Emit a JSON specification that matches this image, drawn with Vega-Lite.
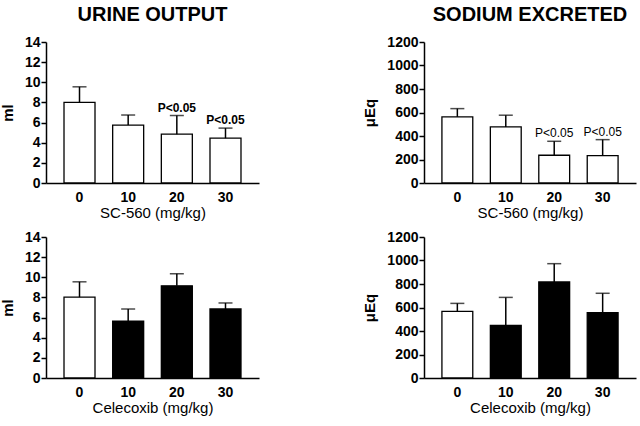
{
  "$schema": "https://vega.github.io/schema/vega-lite/v6.json",
  "background": "white",
  "padding": {"left": 0, "top": 5, "right": 5, "bottom": 5},
  "spacing": 10,
  "config": {
    "font": "Liberation Sans",
    "view": {"stroke": null},
    "concat": {"spacing": 103},
    "axis": {"domainColor": "black", "domainWidth": 1.5, "tickColor": "black", "tickWidth": 1.5, "labelColor": "black", "titleColor": "black", "grid": false, "labelFont": "Liberation Sans", "titleFont": "Liberation Sans", "labelFontWeight": "bold"},
    "axisX": {"ticks": false, "labelAngle": 0, "labelFontSize": 14, "labelPadding": 7, "titleFontSize": 15, "titleFontWeight": "normal", "titlePadding": 1},
    "axisY": {"tickSize": 5, "labelPadding": 1, "labelFontSize": 14, "titleFontSize": 15, "titleFontWeight": "bold", "titlePadding": 9, "labelOverlap": false, "labelFlush": false, "format": "d", "tickCount": 7},
    "title": {"fontSize": 20, "font": "Liberation Sans", "fontWeight": "bold", "color": "black", "anchor": "middle", "offset": 10}
  },
  "vconcat": [
    {
      "hconcat": [
        {
          "width": 213, "height": 141,
          "title": "URINE OUTPUT",
          "data": {"values": [
            {"dose": "0", "mean": 8.0, "upper": 9.55, "group": "vehicle", "label": ""},
            {"dose": "10", "mean": 5.75, "upper": 6.75, "group": "vehicle", "label": ""},
            {"dose": "20", "mean": 4.85, "upper": 6.7, "group": "vehicle", "label": "P<0.05"},
            {"dose": "30", "mean": 4.45, "upper": 5.45, "group": "vehicle", "label": "P<0.05"}
          ]},
          "encoding": {"x": {"field": "dose", "type": "ordinal", "sort": null, "scale": {"paddingInner": 0.363, "paddingOuter": 0.37}, "title": "SC-560 (mg/kg)"}},
          "layer": [
            {"mark": {"type": "bar", "stroke": "black", "strokeWidth": 1.3},
             "encoding": {"y": {"field": "mean", "type": "quantitative", "scale": {"domain": [0, 14]}, "axis": {"labelOverlap": false}, "title": "ml"},
                          "fill": {"field": "group", "type": "nominal", "scale": {"domain": ["vehicle", "drug"], "range": ["white", "black"]}, "legend": null}}},
            {"mark": {"type": "rule", "strokeWidth": 1.5, "color": "black"}, "encoding": {"y": {"field": "mean", "type": "quantitative"}, "y2": {"field": "upper"}}},
            {"mark": {"type": "tick", "thickness": 1.5, "size": 14, "color": "black", "orient": "horizontal"}, "encoding": {"y": {"field": "upper", "type": "quantitative"}}},
            {"mark": {"type": "text", "baseline": "alphabetic", "dy": -4, "fontSize": 12, "fontWeight": "bold", "color": "black"}, "encoding": {"y": {"field": "upper", "type": "quantitative"}, "text": {"field": "label"}}}
          ]
        },
        {
          "width": 212, "height": 141,
          "title": "SODIUM EXCRETED",
          "data": {"values": [
            {"dose": "0", "mean": 563, "upper": 633, "group": "vehicle", "label": ""},
            {"dose": "10", "mean": 477, "upper": 577, "group": "vehicle", "label": ""},
            {"dose": "20", "mean": 236, "upper": 355, "group": "vehicle", "label": "P<0.05"},
            {"dose": "30", "mean": 233, "upper": 369, "group": "vehicle", "label": "P<0.05"}
          ]},
          "encoding": {"x": {"field": "dose", "type": "ordinal", "sort": null, "scale": {"paddingInner": 0.363, "paddingOuter": 0.37}, "title": "SC-560 (mg/kg)"}},
          "layer": [
            {"mark": {"type": "bar", "stroke": "black", "strokeWidth": 1.3},
             "encoding": {"y": {"field": "mean", "type": "quantitative", "scale": {"domain": [0, 1200]}, "axis": {"labelOverlap": false}, "title": "μEq"},
                          "fill": {"field": "group", "type": "nominal", "scale": {"domain": ["vehicle", "drug"], "range": ["white", "black"]}, "legend": null}}},
            {"mark": {"type": "rule", "strokeWidth": 1.5, "color": "black"}, "encoding": {"y": {"field": "mean", "type": "quantitative"}, "y2": {"field": "upper"}}},
            {"mark": {"type": "tick", "thickness": 1.5, "size": 14, "color": "black", "orient": "horizontal"}, "encoding": {"y": {"field": "upper", "type": "quantitative"}}},
            {"mark": {"type": "text", "baseline": "alphabetic", "dy": -4, "fontSize": 12, "fontWeight": "normal", "color": "black"}, "encoding": {"y": {"field": "upper", "type": "quantitative"}, "text": {"field": "label"}}}
          ]
        }
      ]
    },
    {
      "hconcat": [
        {
          "width": 213, "height": 141,
          "data": {"values": [
            {"dose": "0", "mean": 8.03, "upper": 9.55, "group": "vehicle"},
            {"dose": "10", "mean": 5.65, "upper": 6.85, "group": "drug"},
            {"dose": "20", "mean": 9.15, "upper": 10.35, "group": "drug"},
            {"dose": "30", "mean": 6.85, "upper": 7.45, "group": "drug"}
          ]},
          "encoding": {"x": {"field": "dose", "type": "ordinal", "sort": null, "scale": {"paddingInner": 0.363, "paddingOuter": 0.37}, "title": "Celecoxib (mg/kg)"}},
          "layer": [
            {"mark": {"type": "bar", "stroke": "black", "strokeWidth": 1.3},
             "encoding": {"y": {"field": "mean", "type": "quantitative", "scale": {"domain": [0, 14]}, "axis": {"labelOverlap": false}, "title": "ml"},
                          "fill": {"field": "group", "type": "nominal", "scale": {"domain": ["vehicle", "drug"], "range": ["white", "black"]}, "legend": null}}},
            {"mark": {"type": "rule", "strokeWidth": 1.5, "color": "black"}, "encoding": {"y": {"field": "mean", "type": "quantitative"}, "y2": {"field": "upper"}}},
            {"mark": {"type": "tick", "thickness": 1.5, "size": 14, "color": "black", "orient": "horizontal"}, "encoding": {"y": {"field": "upper", "type": "quantitative"}}}
          ]
        },
        {
          "width": 212, "height": 141,
          "data": {"values": [
            {"dose": "0", "mean": 567, "upper": 635, "group": "vehicle"},
            {"dose": "10", "mean": 448, "upper": 686, "group": "drug"},
            {"dose": "20", "mean": 817, "upper": 973, "group": "drug"},
            {"dose": "30", "mean": 556, "upper": 721, "group": "drug"}
          ]},
          "encoding": {"x": {"field": "dose", "type": "ordinal", "sort": null, "scale": {"paddingInner": 0.363, "paddingOuter": 0.37}, "title": "Celecoxib (mg/kg)"}},
          "layer": [
            {"mark": {"type": "bar", "stroke": "black", "strokeWidth": 1.3},
             "encoding": {"y": {"field": "mean", "type": "quantitative", "scale": {"domain": [0, 1200]}, "axis": {"labelOverlap": false}, "title": "μEq"},
                          "fill": {"field": "group", "type": "nominal", "scale": {"domain": ["vehicle", "drug"], "range": ["white", "black"]}, "legend": null}}},
            {"mark": {"type": "rule", "strokeWidth": 1.5, "color": "black"}, "encoding": {"y": {"field": "mean", "type": "quantitative"}, "y2": {"field": "upper"}}},
            {"mark": {"type": "tick", "thickness": 1.5, "size": 14, "color": "black", "orient": "horizontal"}, "encoding": {"y": {"field": "upper", "type": "quantitative"}}}
          ]
        }
      ]
    }
  ]
}
